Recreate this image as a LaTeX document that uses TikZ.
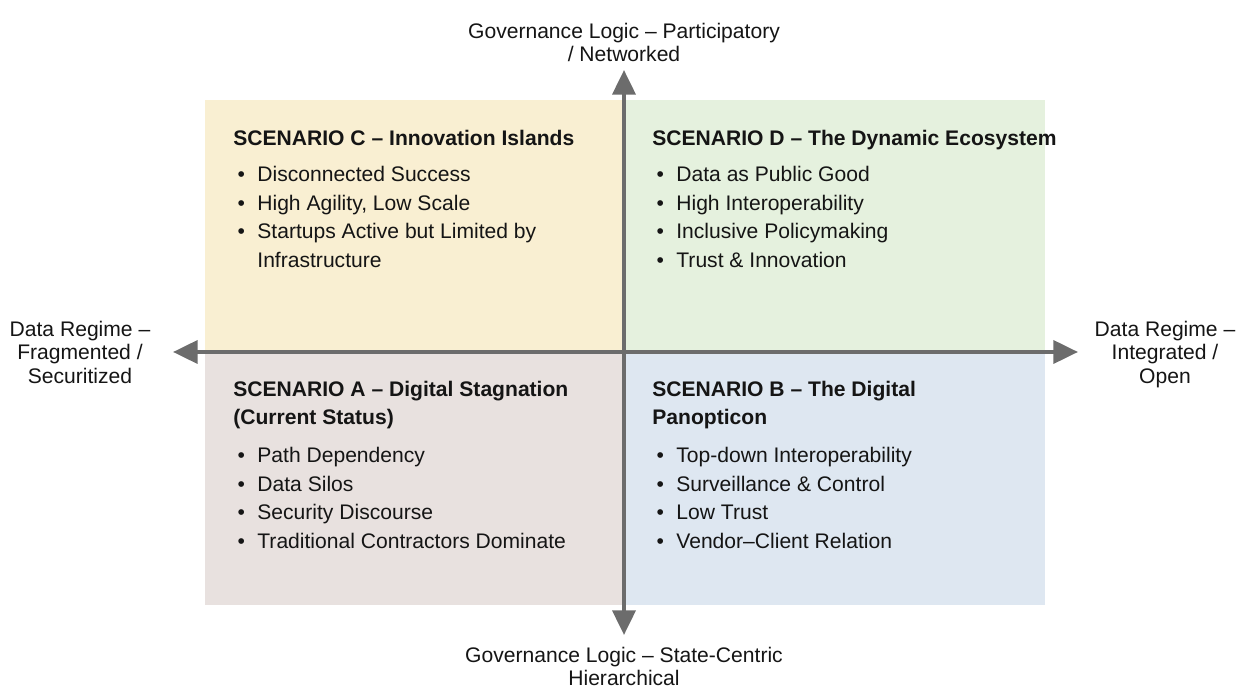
\documentclass[tikz,border=0pt]{standalone}
\usepackage{fontspec}
\setmainfont{Liberation Sans}
\usepackage{xcolor}
\usepackage{tikz}
\usetikzlibrary{arrows.meta}
\definecolor{qC}{HTML}{F9EFD2}
\definecolor{qD}{HTML}{E5F1DE}
\definecolor{qA}{HTML}{E8E1DF}
\definecolor{qB}{HTML}{DEE7F1}
\definecolor{axisgray}{HTML}{6C6C6C}
\definecolor{ink}{HTML}{151515}
\newcommand{\itm}{\makebox[1.14em][l]{\hspace{0.2em}\textbullet}}
\tikzset{
  axis/.style={draw=axisgray, line width=2.3pt,
    {Triangle[length=14pt,width=13pt]}-{Triangle[length=14pt,width=13pt]}},
  scen/.style={anchor=north west, inner sep=0pt, align=left, text=ink,
    font=\bfseries\fontsize{12}{15.6}\selectfont},
  items/.style={anchor=north west, inner sep=0pt, align=left, text=ink,
    font=\fontsize{12}{16.2}\selectfont},
  axlab/.style={anchor=north, inner sep=0pt, align=center, text=ink,
    font=\fontsize{12}{13.2}\selectfont},
}

\begin{document}
\begin{tikzpicture}[x=0.02cm, y=-0.02cm]
  \useasboundingbox (0,0) rectangle (1247,688);
  % quadrants
  \fill[qC] (205,100) rectangle (624,352);
  \fill[qD] (624,100) rectangle (1045,352);
  \fill[qA] (205,352) rectangle (624,605);
  \fill[qB] (624,352) rectangle (1045,605);

  % axes
  \coordinate (north) at (624,70);
  \coordinate (south) at (624,635);
  \coordinate (west) at (173,352);
  \coordinate (east) at (1078,352);
  \draw[axis] (south) -- (north);
  \draw[axis] (west) -- (east);

  % axis labels
  \node[axlab] (govtop) at (624,23) {Governance Logic -- Participatory\\/ Networked};
  \node[axlab] (govbot) at (624,647) {Governance Logic -- State-Centric\\Hierarchical};
  \node[axlab] (datal) at (80,321) {Data Regime --\\Fragmented /\\Securitized};
  \node[axlab] (datar) at (1165,321) {Data Regime --\\Integrated /\\Open};

  % scenario C
  \node[scen] (tC) at (233,130) {SCENARIO C -- Innovation Islands};
  \node[items] (lC) at (233,166) {\itm Disconnected Success\\
    \itm High Agility, Low Scale\\
    \itm Startups Active but Limited by\\
    \hspace{1.14em}Infrastructure};

  % scenario D
  \node[scen] (tD) at (652,130) {SCENARIO D -- The Dynamic Ecosystem};
  \node[items] (lD) at (652,166) {\itm Data as Public Good\\
    \itm High Interoperability\\
    \itm Inclusive Policymaking\\
    \itm Trust \& Innovation};

  % scenario A
  \node[scen] (tA) at (233,381) {SCENARIO A -- Digital Stagnation\\(Current Status)};
  \node[items] (lA) at (233,447) {\itm Path Dependency\\
    \itm Data Silos\\
    \itm Security Discourse\\
    \itm Traditional Contractors Dominate};

  % scenario B
  \node[scen] (tB) at (652,381) {SCENARIO B -- The Digital\\Panopticon};
  \node[items] (lB) at (652,447) {\itm Top-down Interoperability\\
    \itm Surveillance \& Control\\
    \itm Low Trust\\
    \itm Vendor--Client Relation};
\end{tikzpicture}
\end{document}
